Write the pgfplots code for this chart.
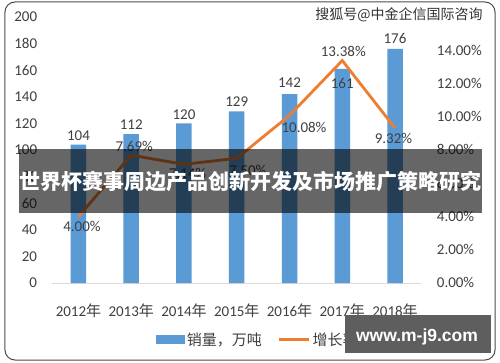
\documentclass[border=0pt]{standalone}
\usepackage{pgfplots}
\pgfplotsset{compat=1.18}
\usetikzlibrary{backgrounds}
\usepackage{fontspec}
\setmainfont{Carlito}
\newfontfamily\cjk{Noto Sans CJK SC}
\newfontfamily\wmfont{Liberation Sans}
\definecolor{barblue}{HTML}{5B9BD5}
\definecolor{lineorange}{HTML}{ED7D31}
\definecolor{txt}{HTML}{404040}
\pgfplotsset{/pgf/number format/assume math mode=true}
\begin{document}
\begin{tikzpicture}
% primary axis: bars
\begin{axis}[
  name=main,
  scale only axis, width=369.3pt, height=266pt,
  xmin=-0.5, xmax=6.5, ymin=0, ymax=200,
  ytick={0,20,...,200},
  xtick={0,...,6},
  xticklabels={{2012{\cjk 年}},{2013{\cjk 年}},{2014{\cjk 年}},{2015{\cjk 年}},{2016{\cjk 年}},{2017{\cjk 年}},{2018{\cjk 年}}},
  axis lines*=left,
  y axis line style={draw=none},
  x axis line style={-, draw=black!15, line width=1pt},
  tick style={draw=none},
  tick label style={font=\fontsize{15}{18}\selectfont, text=txt, inner sep=0pt},
  yticklabel style={anchor=base east, xshift=-14.8pt, yshift=-4.8pt},
  xticklabel style={anchor=base, yshift=-29pt},
  clip=false,
  ybar, bar width=15.5pt,
]
\addplot[fill=barblue, draw=none,
  visualization depends on={value \thisrow{dx} \as \dx},
  visualization depends on={value \thisrow{dy} \as \dy},
  nodes near coords,
  every node near coord/.append style={anchor=center, inner sep=0pt, font=\fontsize{15}{18}\selectfont, text=txt, xshift=\dx pt, yshift=\dy pt},
] table {
x y dx dy
0 104 0 9
1 112 0 9
2 120 0 9
3 129 0 9.5
4 142 0 11.5
5 161 0 -15
6 176 0 10.5
};
\end{axis}
% secondary axis: growth rate
\begin{axis}[
  at={(main.south west)}, anchor=south west,
  scale only axis, width=369.3pt, height=266pt,
  xmin=-0.5, xmax=6.5, ymin=0, ymax=16,
  ytick={0,2,...,14}, xtick=\empty,
  axis y line*=right, axis x line=none,
  y axis line style={draw=none},
  tick style={draw=none},
  yticklabel={\pgfmathprintnumber[fixed,fixed zerofill,precision=2]{\tick}\%},
  tick label style={font=\fontsize{15}{18}\selectfont, text=txt, inner sep=0pt},
  yticklabel style={anchor=base west, xshift=15.3pt, yshift=-4.8pt},
  clip=false,
  legend columns=2,
  legend style={draw=none, fill=none, at={(0.5575,-0.2124)}, anchor=center,
    font=\fontsize{15}{18}\selectfont\cjk, text=txt,
    /tikz/every even column/.append style={column sep=14pt}},
]
\addlegendimage{legend image code/.code={\fill[barblue] (0pt,-4pt) rectangle (28pt,4pt);}}
\addlegendentry{销量，万吨}
\addplot[lineorange, line width=2.8pt, mark=none,
  legend image code/.code={\draw[lineorange, line width=2.8pt] (0pt,0pt) -- (30pt,0pt);},
  visualization depends on={value \thisrow{dx} \as \dx},
  visualization depends on={value \thisrow{dy} \as \dy},
  nodes near coords={\pgfmathprintnumber[fixed,fixed zerofill,precision=2]{\pgfplotspointmeta}\%},
  every node near coord/.append style={anchor=center, inner sep=0pt, font=\fontsize{15}{18}\selectfont, text=txt, xshift=\dx pt, yshift=\dy pt},
] table {
x y dx dy
0 4.00 3.5 -9.5
1 7.69 3 9
2 7.14 3.5 -9
3 7.50 11 -12
4 10.08 14.5 -12
5 13.38 1 9
6 9.32 -1.5 -10
};
\addlegendentry{增长率}
\end{axis}
% decorations, in reference pixels relative to the plot area's lower-left corner
\begin{scope}[shift={(main.south west)}, x=1pt, y=1pt]
\begin{scope}[shift={(-52.1,-79)}]
\begin{scope}[on background layer]
\fill[white] (0,0) rectangle (500,362);
\end{scope}
\draw[rounded corners=10pt, black!70, line width=1pt] (5,2) rectangle (495,360);
\fill[black, opacity=0.6] (19,149) rectangle (482,213);
\node[text=white, font=\fontsize{21}{24}\selectfont\cjk\bfseries, inner sep=0pt] at (250.5,181) {世界杯赛事周边产品创新开发及市场推广策略研究};
\node[text=black!80, font=\fontsize{14}{16}\selectfont\cjk, inner sep=0pt] at (399,347) {搜狐号@中金企信国际咨询};
\fill[black!63] (345,9) rectangle (491,47);
\node[text=white, font=\fontsize{17.5}{20}\selectfont\wmfont\bfseries, inner sep=0pt] at (417,25.5) {www.m-j9.com};
\end{scope}
\end{scope}
\end{tikzpicture}
\end{document}
